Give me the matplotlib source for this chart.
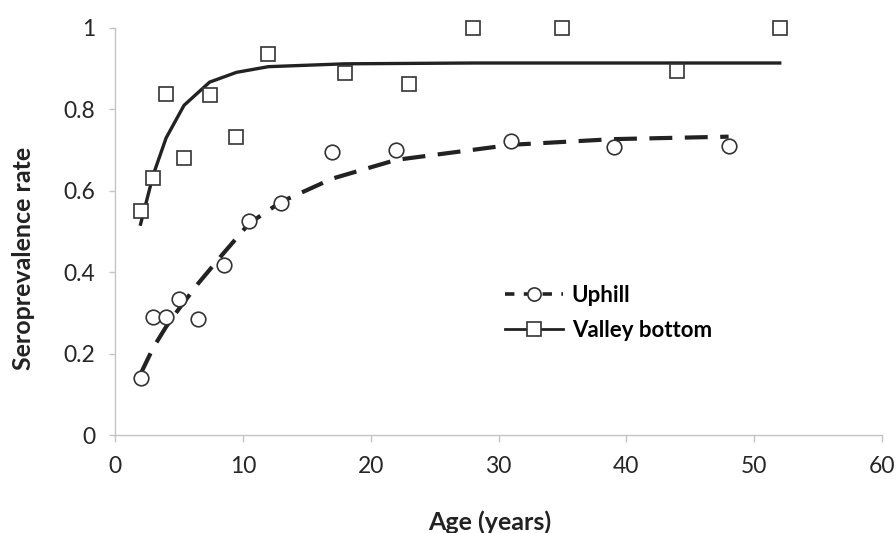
import matplotlib
matplotlib.use("Agg")
import matplotlib.pyplot as plt

# Observed data
valley_age = [2, 3, 4, 5.4, 7.4, 9.5, 12, 18, 23, 28, 35, 44, 52]
valley_rate = [0.55, 0.631, 0.838, 0.681, 0.835, 0.732, 0.936, 0.889, 0.862, 1.0, 1.0, 0.894, 1.0]
uphill_age = [2, 3, 4, 5, 6.5, 8.5, 10.5, 13, 17, 22, 31, 39, 48]
uphill_rate = [0.14, 0.29, 0.29, 0.334, 0.285, 0.418, 0.526, 0.57, 0.695, 0.70, 0.722, 0.708, 0.71]

# Fitted curves
valley_fit = [0.518, 0.64, 0.73, 0.81, 0.867, 0.891, 0.905, 0.912, 0.913, 0.914, 0.914, 0.914, 0.914]
uphill_fit = [0.15, 0.215, 0.266, 0.31, 0.372, 0.447, 0.52, 0.573, 0.63, 0.676, 0.713, 0.727, 0.733]

x_ticks = [0, 10, 20, 30, 40, 50, 60]
y_ticks = [0, 0.2, 0.4, 0.6, 0.8, 1]
y_tick_labels = ["0", "0.2", "0.4", "0.6", "0.8", "1"]

plt.rcParams['font.family'] = ['Lato', 'DejaVu Sans']

W, H = 896, 533
fig = plt.figure(figsize=(W/100, H/100), dpi=100)
ax = fig.add_axes([115/W, 1-435/H, (882-115)/W, (435-28)/H])

dark = '#222222'
edge = '#333333'
ax.plot(uphill_age, uphill_fit, color=dark, lw=3.0, dashes=(5.5, 3.0), zorder=2)
ax.plot(valley_age, valley_fit, color=dark, lw=2.4, zorder=2)
ax.plot(uphill_age, uphill_rate, 'o', ms=10.5, mfc='white', mec=edge, mew=1.2, ls='none', clip_on=False, zorder=3)
ax.plot(valley_age, valley_rate, 's', ms=10.5, mfc='white', mec=edge, mew=1.2, ls='none', clip_on=False, zorder=3)

# legend proxies
h1, = ax.plot([], [], color=dark, lw=2.6, dashes=(2.6, 2.6), marker='o', ms=9.5, mfc='white', mec=edge, mew=1.2)
h2, = ax.plot([], [], color=dark, lw=2.0, marker='s', ms=9.5, mfc='white', mec=edge, mew=1.2)
leg = ax.legend([h1, h2], ["Uphill", "Valley bottom"], loc='center left',
                bbox_to_anchor=((505-115)/767, 1-(313-28)/407), frameon=False,
                prop={'weight': 'bold', 'size': 16}, handlelength=2.6, handletextpad=0.4,
                labelspacing=0.65, borderaxespad=0, borderpad=0)

ax.set_xlim(0, 60)
ax.set_ylim(0, 1)
ax.set_xticks(x_ticks)
ax.set_yticks(y_ticks)
ax.set_yticklabels(y_tick_labels)
for s in ['top', 'right']:
    ax.spines[s].set_visible(False)
for s in ['left', 'bottom']:
    ax.spines[s].set_color('#c4c4c4')
    ax.spines[s].set_linewidth(1.0)
ax.tick_params(axis='both', colors='#c4c4c4', labelcolor='#262626', labelsize=16.5, width=1.0, direction='out')
ax.tick_params(axis='x', length=5, pad=10)
ax.tick_params(axis='y', length=4.5, pad=9.5)

fig.text(24/W, 1-258/H, "Seroprevalence rate", rotation=90, ha='center', va='center',
         fontsize=18, fontweight='bold', color='#222222')
fig.text(490/W, 1-530/H, "Age (years)", ha='center', va='baseline',
         fontsize=18, fontweight='bold', color='#222222')

fig.savefig("out.png", dpi=100)
